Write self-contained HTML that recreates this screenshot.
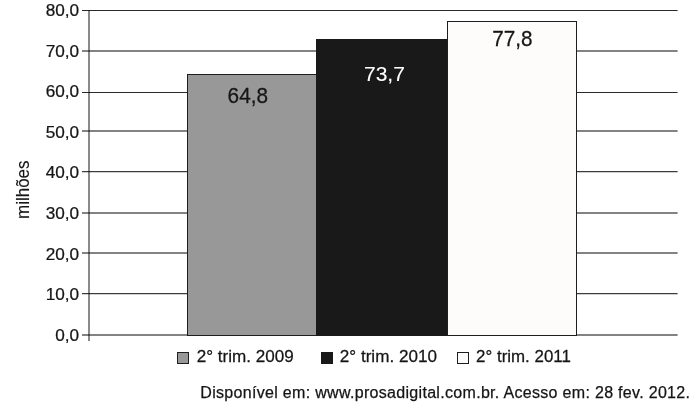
<!DOCTYPE html>
<html><head><meta charset="utf-8">
<style>
html,body{margin:0;padding:0;background:#fff;}
body{width:694px;height:409px;overflow:hidden;position:relative;}
svg{position:absolute;left:0;top:0;display:block;}
text{font-family:"Liberation Sans",sans-serif;fill:#151515;stroke:#151515;stroke-width:0.25px;}
</style></head><body>
<svg width="694" height="409" viewBox="0 0 694 409" xmlns="http://www.w3.org/2000/svg">
<rect x="0" y="0" width="694" height="409" fill="#fff"/>
<g shape-rendering="crispEdges">
<rect x="82" y="10" width="595.6" height="1" fill="#2a2a2a" shape-rendering="auto"/>
<rect x="82" y="50" width="595.6" height="2" fill="#838383" shape-rendering="auto"/>
<rect x="82" y="92" width="595.6" height="1" fill="#2a2a2a" shape-rendering="auto"/>
<rect x="82" y="130" width="595.6" height="2" fill="#838383" shape-rendering="auto"/>
<rect x="82" y="171" width="595.6" height="1" fill="#3c3c3c" shape-rendering="auto"/>
<rect x="82" y="172" width="595.6" height="1" fill="#cfcfcf" shape-rendering="auto"/>
<rect x="82" y="212" width="595.6" height="2" fill="#838383" shape-rendering="auto"/>
<rect x="82" y="252" width="595.6" height="2" fill="#838383" shape-rendering="auto"/>
<rect x="82" y="293" width="595.6" height="1" fill="#3c3c3c" shape-rendering="auto"/>
<rect x="82" y="294" width="595.6" height="1" fill="#cfcfcf" shape-rendering="auto"/>
<rect x="82" y="334" width="595.6" height="2" fill="#838383" shape-rendering="auto"/>
<rect x="88" y="10" width="2" height="331" fill="#8a8a8a" style="mix-blend-mode:multiply"/>
<rect x="187" y="74" width="130" height="262" fill="#1e1e1e"/>
<rect x="188" y="75" width="128" height="260" fill="#979897"/>
<rect x="316" y="39" width="131" height="297" fill="#191919"/>
<rect x="447" y="21" width="130" height="315" fill="#1e1e1e"/>
<rect x="448" y="22" width="128" height="313" fill="#fdfcfb"/>
<rect x="177" y="352" width="12" height="12" fill="#1e1e1e"/>
<rect x="178" y="353" width="10" height="10" fill="#979897"/>
<rect x="321" y="352" width="12" height="12" fill="#191919"/>
<rect x="457" y="352" width="12" height="12" fill="#1e1e1e"/>
<rect x="458" y="353" width="10" height="10" fill="#fdfcfb"/>
</g>
<g font-size="17.2" text-anchor="end">
<text transform="translate(79.1,16.0) scale(1,0.98)">80,0</text>
<text transform="translate(79.1,56.5) scale(1,0.98)">70,0</text>
<text transform="translate(79.1,97.2) scale(1,0.98)">60,0</text>
<text transform="translate(79.1,137.5) scale(1,0.98)">50,0</text>
<text transform="translate(79.1,177.8) scale(1,0.98)">40,0</text>
<text transform="translate(79.1,218.8) scale(1,0.98)">30,0</text>
<text transform="translate(79.1,259.6) scale(1,0.98)">20,0</text>
<text transform="translate(79.1,299.8) scale(1,0.98)">10,0</text>
<text transform="translate(79.1,340.7) scale(1,0.98)">0,0</text>
</g>
<g font-size="21.0">
<text transform="translate(227.6,103.3) scale(0.99,1.04)">64,8</text>
<text transform="translate(364.0,80.9)" style="fill:#fff;stroke:#fff;stroke-width:0.1px">73,7</text>
<text transform="translate(492.2,45.9) scale(0.985,1.04)">77,8</text>
</g>
<g font-size="17">
<text transform="translate(196.7,362.4) scale(1.006,1.02)">2° trim. 2009</text>
<text transform="translate(339.8,362.4) scale(1.006,1.02)">2° trim. 2010</text>
<text transform="translate(476.1,362.4) scale(0.995,1.02)">2° trim. 2011</text>
</g>
<text font-size="16" x="200.3" y="397.6" style="letter-spacing:0.31px">Disponível em: www.prosadigital.com.br. Acesso em: 28 fev. 2012.</text>
<text font-size="17.8" style="stroke-width:0.12px" transform="translate(28.5,219) rotate(-90) scale(0.955,1)">milhões</text>
</svg>
</body></html>
